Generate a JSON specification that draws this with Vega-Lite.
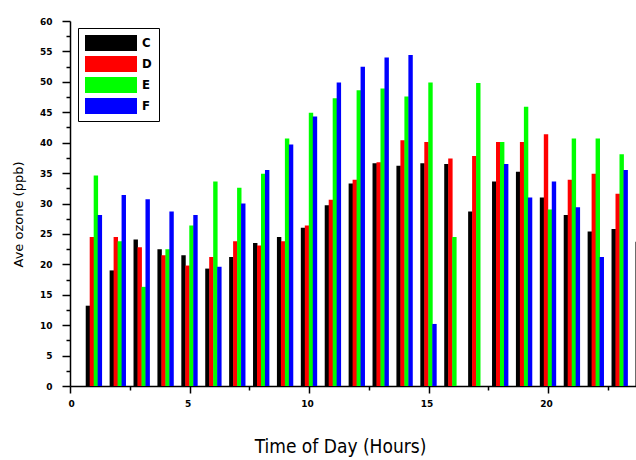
{
  "$schema": "https://vega.github.io/schema/vega-lite/v6.json",
  "autosize": "none",
  "width": 566,
  "height": 365,
  "padding": {"left": 70, "top": 21, "right": 0, "bottom": 74},
  "background": "white",
  "data": {
    "values": [
      {"hour": 1, "site": "C", "ozone": 13.2}, {"hour": 1, "site": "D", "ozone": 24.5}, {"hour": 1, "site": "E", "ozone": 34.6}, {"hour": 1, "site": "F", "ozone": 28.1},
      {"hour": 2, "site": "C", "ozone": 19.0}, {"hour": 2, "site": "D", "ozone": 24.5}, {"hour": 2, "site": "E", "ozone": 23.8}, {"hour": 2, "site": "F", "ozone": 31.4},
      {"hour": 3, "site": "C", "ozone": 24.1}, {"hour": 3, "site": "D", "ozone": 22.8}, {"hour": 3, "site": "E", "ozone": 16.3}, {"hour": 3, "site": "F", "ozone": 30.7},
      {"hour": 4, "site": "C", "ozone": 22.5}, {"hour": 4, "site": "D", "ozone": 21.5}, {"hour": 4, "site": "E", "ozone": 22.5}, {"hour": 4, "site": "F", "ozone": 28.7},
      {"hour": 5, "site": "C", "ozone": 21.5}, {"hour": 5, "site": "D", "ozone": 19.8}, {"hour": 5, "site": "E", "ozone": 26.4}, {"hour": 5, "site": "F", "ozone": 28.1},
      {"hour": 6, "site": "C", "ozone": 19.3}, {"hour": 6, "site": "D", "ozone": 21.2}, {"hour": 6, "site": "E", "ozone": 33.6}, {"hour": 6, "site": "F", "ozone": 19.6},
      {"hour": 7, "site": "C", "ozone": 21.2}, {"hour": 7, "site": "D", "ozone": 23.8}, {"hour": 7, "site": "E", "ozone": 32.6}, {"hour": 7, "site": "F", "ozone": 30.0},
      {"hour": 8, "site": "C", "ozone": 23.5}, {"hour": 8, "site": "D", "ozone": 23.1}, {"hour": 8, "site": "E", "ozone": 34.9}, {"hour": 8, "site": "F", "ozone": 35.5},
      {"hour": 9, "site": "C", "ozone": 24.5}, {"hour": 9, "site": "D", "ozone": 23.8}, {"hour": 9, "site": "E", "ozone": 40.7}, {"hour": 9, "site": "F", "ozone": 39.7},
      {"hour": 10, "site": "C", "ozone": 26.0}, {"hour": 10, "site": "D", "ozone": 26.4}, {"hour": 10, "site": "E", "ozone": 44.9}, {"hour": 10, "site": "F", "ozone": 44.3},
      {"hour": 11, "site": "C", "ozone": 29.7}, {"hour": 11, "site": "D", "ozone": 30.6}, {"hour": 11, "site": "E", "ozone": 47.3}, {"hour": 11, "site": "F", "ozone": 49.9},
      {"hour": 12, "site": "C", "ozone": 33.3}, {"hour": 12, "site": "D", "ozone": 33.9}, {"hour": 12, "site": "E", "ozone": 48.6}, {"hour": 12, "site": "F", "ozone": 52.5},
      {"hour": 13, "site": "C", "ozone": 36.6}, {"hour": 13, "site": "D", "ozone": 36.8}, {"hour": 13, "site": "E", "ozone": 48.9}, {"hour": 13, "site": "F", "ozone": 54.0},
      {"hour": 14, "site": "C", "ozone": 36.2}, {"hour": 14, "site": "D", "ozone": 40.4}, {"hour": 14, "site": "E", "ozone": 47.6}, {"hour": 14, "site": "F", "ozone": 54.4},
      {"hour": 15, "site": "C", "ozone": 36.6}, {"hour": 15, "site": "D", "ozone": 40.1}, {"hour": 15, "site": "E", "ozone": 49.9}, {"hour": 15, "site": "F", "ozone": 10.2},
      {"hour": 16, "site": "C", "ozone": 36.5}, {"hour": 16, "site": "D", "ozone": 37.4}, {"hour": 16, "site": "E", "ozone": 24.5},
      {"hour": 17, "site": "C", "ozone": 28.7}, {"hour": 17, "site": "D", "ozone": 37.8}, {"hour": 17, "site": "E", "ozone": 49.8},
      {"hour": 18, "site": "C", "ozone": 33.6}, {"hour": 18, "site": "D", "ozone": 40.1}, {"hour": 18, "site": "E", "ozone": 40.1}, {"hour": 18, "site": "F", "ozone": 36.5},
      {"hour": 19, "site": "C", "ozone": 35.2}, {"hour": 19, "site": "D", "ozone": 40.1}, {"hour": 19, "site": "E", "ozone": 45.9}, {"hour": 19, "site": "F", "ozone": 31.0},
      {"hour": 20, "site": "C", "ozone": 31.0}, {"hour": 20, "site": "D", "ozone": 41.4}, {"hour": 20, "site": "E", "ozone": 29.0}, {"hour": 20, "site": "F", "ozone": 33.6},
      {"hour": 21, "site": "C", "ozone": 28.1}, {"hour": 21, "site": "D", "ozone": 33.9}, {"hour": 21, "site": "E", "ozone": 40.7}, {"hour": 21, "site": "F", "ozone": 29.4},
      {"hour": 22, "site": "C", "ozone": 25.4}, {"hour": 22, "site": "D", "ozone": 34.9}, {"hour": 22, "site": "E", "ozone": 40.7}, {"hour": 22, "site": "F", "ozone": 21.2},
      {"hour": 23, "site": "C", "ozone": 25.8}, {"hour": 23, "site": "D", "ozone": 31.6}, {"hour": 23, "site": "E", "ozone": 38.1}, {"hour": 23, "site": "F", "ozone": 35.5},
      {"hour": 24, "site": "C", "ozone": 23.7}
    ]
  },
  "layer": [
    {
      "mark": {"type": "bar", "width": 4.4, "clip": true, "strokeWidth": 0},
      "encoding": {
        "x": {
          "field": "hour",
          "type": "ordinal",
          "scale": {
            "type": "band",
            "domain": [0, 1, 2, 3, 4, 5, 6, 7, 8, 9, 10, 11, 12, 13, 14, 15, 16, 17, 18, 19, 20, 21, 22, 23, 24],
            "range": [-11.95, 585.55],
            "paddingInner": 0,
            "paddingOuter": 0
          },
          "axis": null
        },
        "xOffset": {
          "field": "site",
          "type": "nominal",
          "scale": {"domain": ["C", "D", "E", "F"], "paddingInner": 0, "paddingOuter": 1.09}
        },
        "y": {
          "field": "ozone",
          "type": "quantitative",
          "stack": null,
          "scale": {"domain": [0, 60], "nice": false},
          "axis": {
            "values": [0, 2.5, 5, 7.5, 10, 12.5, 15, 17.5, 20, 22.5, 25, 27.5, 30, 32.5, 35, 37.5, 40, 42.5, 45, 47.5, 50, 52.5, 55, 57.5, 60],
            "labelExpr": "datum.value % 5 === 0 ? datum.label : ''",
            "tickSize": {"condition": {"test": "datum.value % 5 === 0", "value": 8}, "value": 4},
            "grid": false,
            "labelPadding": 10,
            "title": "Ave ozone (ppb)",
            "titleFont": "DejaVu Sans, sans-serif",
            "titleFontSize": 13,
            "titleFontWeight": "normal",
            "titleX": -52,
            "titleY": 193,
            "titleAlign": "center",
            "titleBaseline": "middle",
            "titleAnchor": null
          }
        },
        "color": {
          "field": "site",
          "type": "nominal",
          "scale": {"domain": ["C", "D", "E", "F"], "range": ["#000000", "#ff0000", "#00ff00", "#0000ff"]},
          "legend": {
            "title": null,
            "orient": "none",
            "legendX": 8,
            "legendY": 7,
            "strokeColor": "#000000",
            "fillColor": "#ffffff",
            "padding": 7,
            "symbolType": "M-1,-1H5.5V1H-1Z",
            "symbolSize": 256,
            "symbolStrokeWidth": 0,
            "symbolOpacity": 1,
            "rowPadding": 5,
            "labelOffset": 41,
            "labelFont": "Liberation Sans Narrow, DejaVu Sans Condensed, sans-serif",
            "labelFontSize": 13,
            "labelFontWeight": "bold",
            "labelColor": "#000000"
          }
        }
      }
    },
    {
      "mark": {"type": "rule", "opacity": 0},
      "encoding": {
        "x": {
          "field": "hour",
          "type": "quantitative",
          "scale": {"domain": [0, 23.68], "nice": false, "zero": false},
          "axis": {
            "values": [0, 2.5, 5, 7.5, 10, 12.5, 15, 17.5, 20, 22.5],
            "labelExpr": "datum.value % 5 === 0 ? datum.label : ''",
            "tickSize": {"condition": {"test": "datum.value % 5 === 0", "value": 7}, "value": 4},
            "grid": false,
            "labelPadding": 6,
            "labelOffset": -2,
            "title": "Time of Day (Hours)",
            "titleFont": "Liberation Sans Narrow, DejaVu Sans Condensed, sans-serif",
            "titleFontSize": 19,
            "titleFontWeight": "normal",
            "titleX": 270,
            "titleY": 66,
            "titleAlign": "center",
            "titleBaseline": "alphabetic",
            "titleAnchor": null
          }
        }
      }
    }
  ],
  "resolve": {"scale": {"x": "independent"}},
  "config": {
    "view": {"stroke": null},
    "axis": {
      "domainColor": "#000000",
      "domainWidth": 1.5,
      "tickColor": "#000000",
      "tickWidth": 1.5,
      "labelColor": "#000000",
      "labelFont": "DejaVu Sans, sans-serif",
      "labelFontSize": 9,
      "labelFontWeight": "bold",
      "titleColor": "#000000"
    }
  }
}
